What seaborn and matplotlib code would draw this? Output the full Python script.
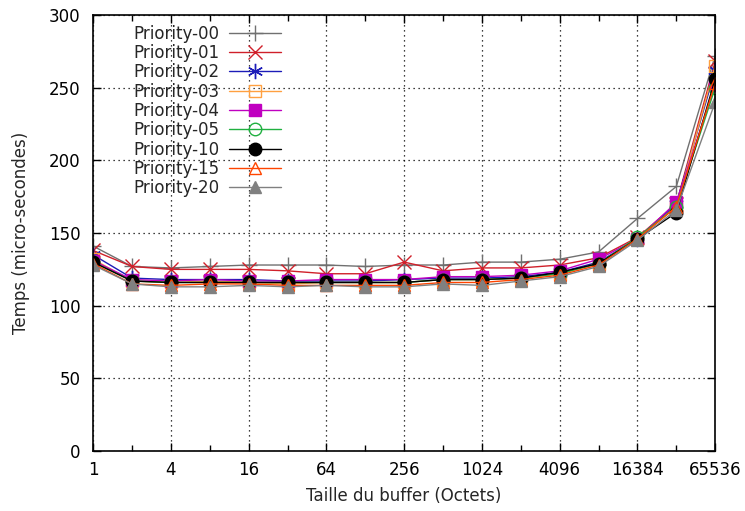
import matplotlib
matplotlib.use("Agg")
import matplotlib.pyplot as plt
import matplotlib.ticker as mticker
import seaborn as sns
import pandas as pd

# buffer sizes 1 .. 65536 (powers of 2)
sizes = [1, 2, 4, 8, 16, 32, 64, 128, 256, 512, 1024, 2048, 4096, 8192, 16384, 32768, 65536]

prio_00 = [141, 127, 126, 127, 128, 128, 128, 127, 128, 128, 130, 130, 132, 137, 160, 182, 272]
prio_01 = [138, 127, 125, 125, 125, 124, 122, 122, 130, 124, 126, 126, 128, 133, 147, 170, 268]
prio_02 = [135, 119, 118, 118, 118, 117, 117, 117, 118, 119, 119, 120, 123, 130, 146, 170, 262]
prio_03 = [132, 117, 116, 117, 116, 115, 116, 116, 116, 118, 118, 119, 122, 129, 146, 168, 265]
prio_04 = [131, 118, 117, 118, 117, 117, 118, 118, 118, 120, 120, 121, 124, 132, 146, 171, 252]
prio_05 = [130, 117, 116, 116, 116, 116, 116, 116, 116, 118, 118, 119, 122, 129, 147, 168, 250]
prio_10 = [130, 117, 116, 116, 116, 116, 116, 116, 116, 118, 118, 119, 123, 129, 146, 164, 256]
prio_15 = [129, 115, 114, 115, 115, 114, 114, 114, 114, 116, 116, 118, 121, 128, 146, 168, 253]
prio_20 = [128, 115, 113, 113, 114, 113, 114, 113, 113, 115, 114, 117, 120, 127, 145, 166, 240]

labels = ["Priority-00", "Priority-01", "Priority-02", "Priority-03", "Priority-04",
          "Priority-05", "Priority-10", "Priority-15", "Priority-20"]
series = [prio_00, prio_01, prio_02, prio_03, prio_04, prio_05, prio_10, prio_15, prio_20]

x_ticks = [1, 4, 16, 64, 256, 1024, 4096, 16384, 65536]
y_ticks = [0, 50, 100, 150, 200, 250, 300]

# gnuplot-like styles: (color, marker, filled, size)
styles = [
    ("#707070", "+", False, 11),
    ("#d0202a", "x", False, 10),
    ("#1c1cb8", (6, 2, 0), False, 11),
    ("#ffa040", "s", False, 9),
    ("#c000c0", "s", True, 9),
    ("#20b040", "o", False, 9),
    ("#000000", "o", True, 9),
    ("#ff4500", "^", False, 9),
    ("#808080", "^", True, 9),
]

sns.set_theme(style="ticks")
plt.rcParams['font.family'] = ['DejaVu Sans']

fig, ax = plt.subplots(figsize=(7.45, 5.11), dpi=100)
fig.subplots_adjust(left=0.125, right=0.96, top=0.971, bottom=0.117)

for lab, vals, (col, mk, filled, ms) in zip(labels, series, styles):
    df = pd.DataFrame({"size": sizes, "temps": vals})
    sns.lineplot(data=df, x="size", y="temps", ax=ax, color=col, lw=1.0,
                 marker=mk, markersize=ms, markeredgewidth=1.0,
                 markerfacecolor=col if filled else "none",
                 markeredgecolor=col, label=lab)

ax.set_xscale("log", base=2)
ax.set_xlim(1, 65536)
ax.set_ylim(0, 300)
ax.xaxis.set_major_locator(mticker.FixedLocator(x_ticks))
ax.xaxis.set_major_formatter(mticker.FixedFormatter([str(t) for t in x_ticks]))
ax.xaxis.set_minor_locator(mticker.FixedLocator([2, 8, 32, 128, 512, 2048, 8192, 32768]))
ax.xaxis.set_minor_formatter(mticker.NullFormatter())
ax.set_yticks(y_ticks)

ax.tick_params(which="both", direction="in", top=True, right=True, labelsize=12, colors="black")
ax.tick_params(axis="x", pad=7)
ax.tick_params(axis="y", pad=9)
ax.tick_params(which="major", length=6, width=1)
ax.tick_params(which="minor", length=4, width=1)
for sp in ax.spines.values():
    sp.set_color("black")
    sp.set_linewidth(1.2)

ax.grid(True, which="major", linestyle=(0, (1, 3)), color="black", lw=0.9)

ax.set_xlabel("Taille du buffer (Octets)", fontsize=12, labelpad=6)
ax.set_ylabel("Temps (micro-secondes)", fontsize=12, labelpad=14)

ax.legend(loc="upper left", bbox_to_anchor=(0.04, 1.012), frameon=False, markerfirst=False,
          fontsize=12, handlelength=3.1, labelspacing=0.08, handletextpad=0.6)

fig.savefig("out.png", dpi=100)
